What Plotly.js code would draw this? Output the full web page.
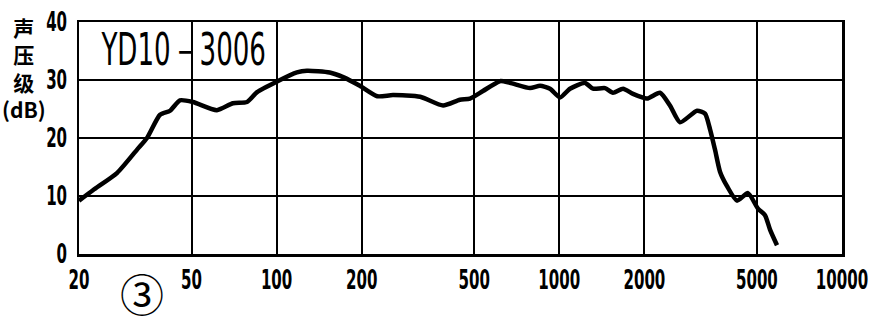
<!DOCTYPE html>
<html>
<head>
<meta charset="utf-8">
<script src="https://cdn.plot.ly/plotly-3.0.1.min.js"></script>
<style>
html,body{margin:0;padding:0;background:#fff;}
#chart{width:883px;height:325px;}
</style>
</head>
<body>
<div id="chart"></div>
<script>
const freqHz = [20, 22.4, 27.3, 32.1, 34.8, 38.7, 42, 45.5, 50.6, 61.5, 70.1, 78.6, 85.3, 100, 118, 128, 154, 172, 197, 227, 258, 322, 388, 445, 483, 537, 617, 669, 788, 855, 927, 1006, 1091, 1233, 1316, 1451, 1549, 1681, 1823, 2043, 2271, 2463, 2673, 3070, 3277, 3414, 3554, 3702, 3920, 4252, 4650, 5046, 5342, 5564, 5890];
const levelDb = [9.2, 11, 14, 18, 20, 24, 24.7, 26.5, 26.2, 24.8, 26, 26.2, 27.9, 29.7, 31.3, 31.6, 31.3, 30.5, 29, 27.2, 27.4, 27.1, 25.6, 26.6, 26.8, 28.1, 29.8, 29.5, 28.6, 29, 28.5, 27, 28.5, 29.5, 28.5, 28.6, 27.8, 28.5, 27.6, 26.8, 27.8, 25.6, 22.7, 24.7, 24.2, 21.5, 18, 14.2, 11.7, 9.2, 10.5, 7.8, 6.7, 4.2, 1.5];
const xTickVals = [20, 50, 100, 200, 500, 1000, 2000, 5000, 10000];
const xTickText = ["20", "50", "100", "200", "500", "1000", "2000", "5000", "10000"];
const yTickVals = [0, 10, 20, 30, 40];
const modelLabel = "YD10－3006";
const yTitleLines = ["声", "压", "级", "(dB)"];
const figLabel = "③";

const condFamily = "DejaVu Sans Condensed, DejaVu Sans, sans-serif";
const tickFont = {family: condFamily, size: 27, color: "#000", weight: "bold"};

const trace = {
  x: freqHz, y: levelDb, type: "scatter", mode: "lines",
  line: {color: "#000", width: 4.5, shape: "spline", smoothing: 0.6},
  hoverinfo: "skip"
};

const layout = {
  width: 883, height: 325,
  margin: {l: 79, r: 41, t: 22, b: 71},
  paper_bgcolor: "#fff", plot_bgcolor: "#fff",
  showlegend: false,
  xaxis: {
    type: "log", range: [Math.log10(20), Math.log10(10000)],
    tickvals: xTickVals, ticktext: xTickText,
    showgrid: true, gridcolor: "#000", gridwidth: 2,
    showline: true, linecolor: "#000", linewidth: 2.5, mirror: true,
    ticks: "", tickfont: tickFont, zeroline: false, fixedrange: true,
    ticklabeloverflow: "allow"
  },
  yaxis: {
    range: [0, 40], tickvals: yTickVals,
    showgrid: true, gridcolor: "#000", gridwidth: 2,
    showline: true, linecolor: "#000", linewidth: 2.5, mirror: true,
    ticks: "", tickfont: tickFont, zeroline: false, fixedrange: true,
    ticklabelstandoff: 4, ticklabeloverflow: "allow"
  },
  annotations: [
    {text: modelLabel, xref: "paper", yref: "paper", x: 0.137, y: 0.882,
     xanchor: "center", yanchor: "middle", showarrow: false,
     font: {family: condFamily, size: 44, color: "#000"}},
    {text: yTitleLines.join("<br>"), xref: "paper", yref: "paper", x: -0.072, y: 1.05,
     xanchor: "center", yanchor: "top", align: "center", showarrow: false,
     font: {family: "Noto Sans CJK SC, sans-serif", size: 21, color: "#000", weight: "bold"}},
    {text: figLabel, xref: "paper", yref: "paper", x: 0.083, y: -0.168,
     xanchor: "center", yanchor: "middle", showarrow: false,
     font: {family: "Noto Sans CJK SC, DejaVu Sans, sans-serif", size: 44, color: "#000"}}
  ]
};

function squeeze(el, s, anchor) {
  const bb = el.getBBox();
  const ax = anchor === "end" ? bb.x + bb.width : bb.x + bb.width / 2;
  const orig = el.getAttribute("transform") || "";
  el.setAttribute("transform", orig + " translate(" + ax + ",0) scale(" + s + ",1) translate(" + (-ax) + ",0)");
}

Plotly.newPlot("chart", [trace], layout, {displayModeBar: false, staticPlot: true}).then(function(){
  document.querySelectorAll("#chart .xtick text").forEach(function(t){ squeeze(t, 0.62, "middle"); });
  document.querySelectorAll("#chart .ytick text").forEach(function(t){ squeeze(t, 0.62, "end"); });
  document.querySelectorAll("#chart .annotation-text").forEach(function(t){
    if (t.textContent === modelLabel) squeeze(t, 0.66, "middle");
  });
});
</script>
</body>
</html>
